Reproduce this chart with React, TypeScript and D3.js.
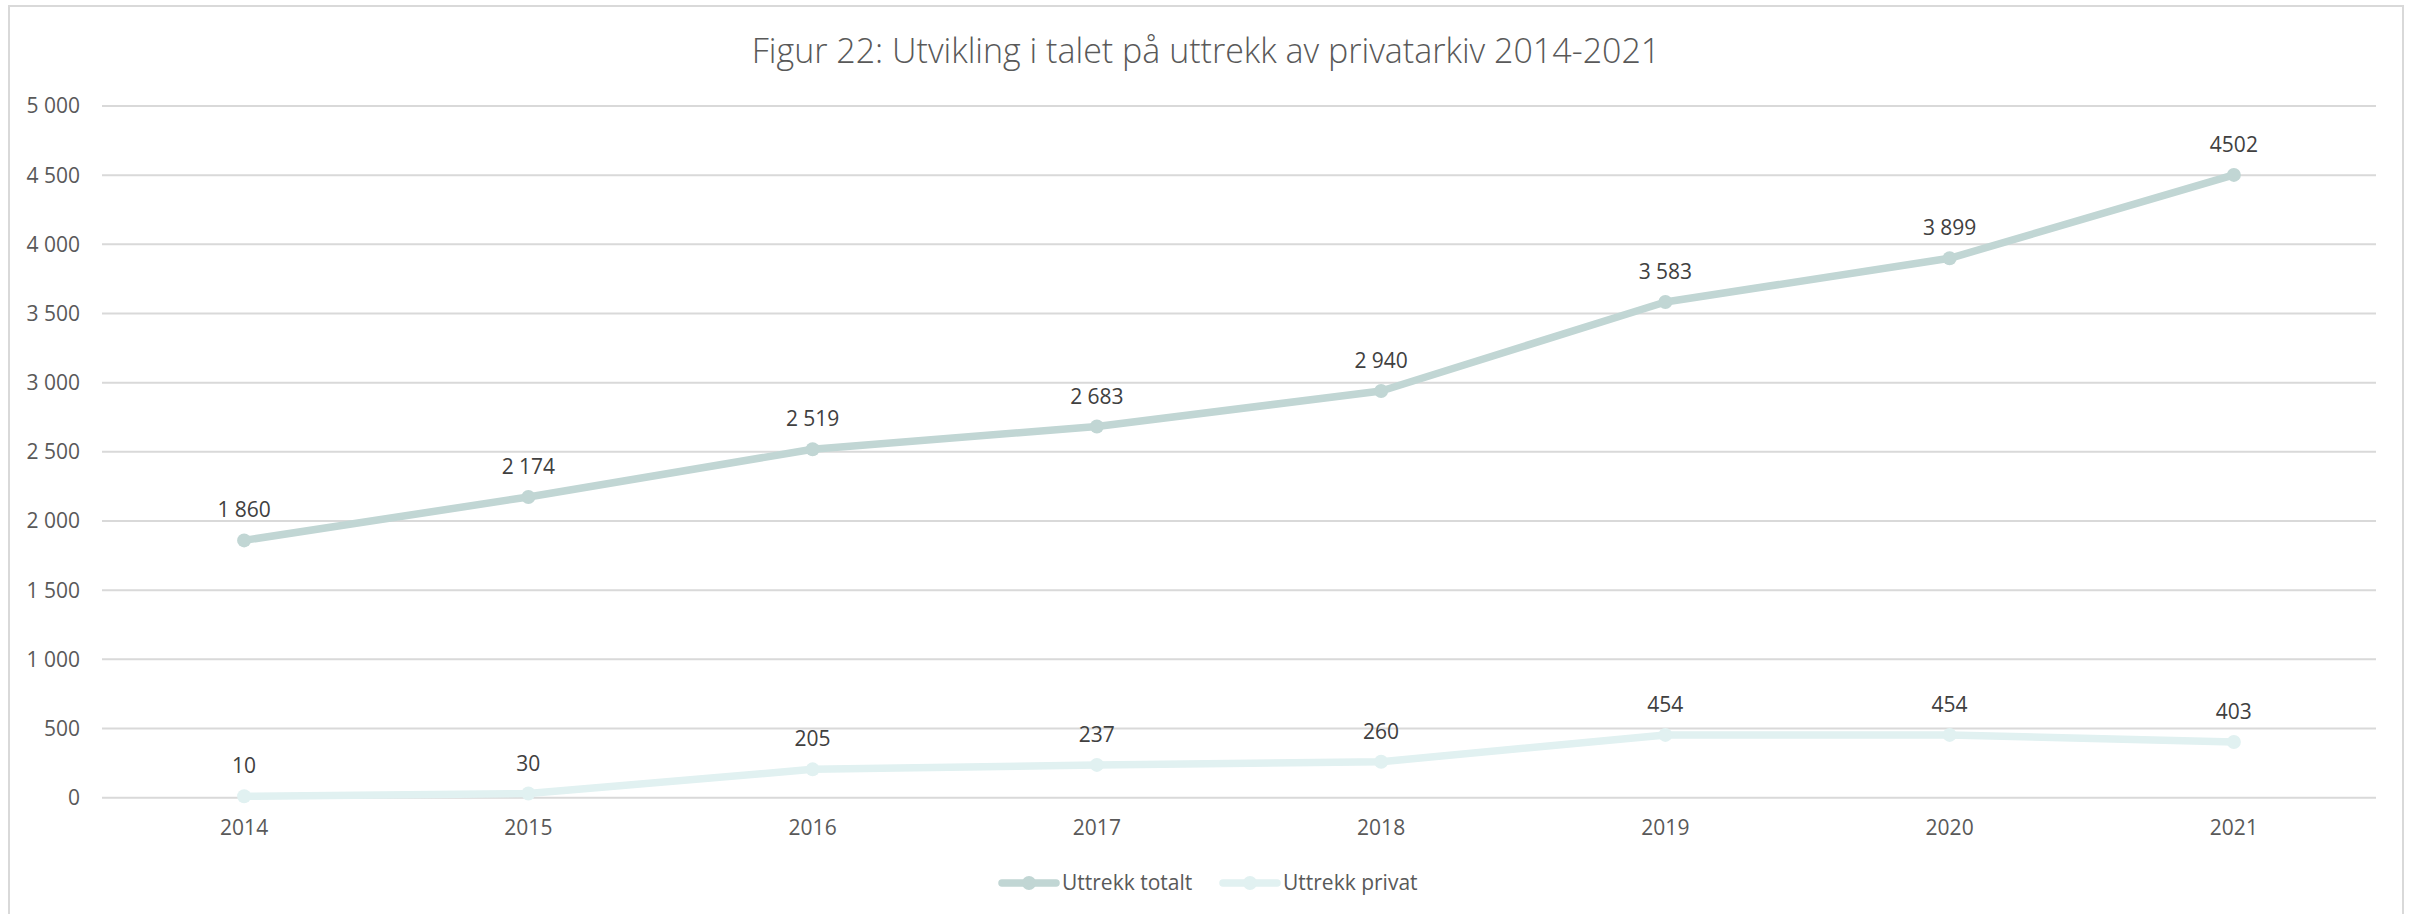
import React from 'react';
import * as d3 from 'd3';

const years = ['2014', '2015', '2016', '2017', '2018', '2019', '2020', '2021'];
const totalValues = [1860, 2174, 2519, 2683, 2940, 3583, 3899, 4502];
const totalLabels = ['1 860', '2 174', '2 519', '2 683', '2 940', '3 583', '3 899', '4502'];
const privatValues = [10, 30, 205, 237, 260, 454, 454, 403];
const privatLabels = ['10', '30', '205', '237', '260', '454', '454', '403'];
const yTicks = [0, 500, 1000, 1500, 2000, 2500, 3000, 3500, 4000, 4500, 5000];
const yTickLabels = ['0', '500', '1 000', '1 500', '2 000', '2 500', '3 000', '3 500', '4 000', '4 500', '5 000'];

const W = 2410;
const H = 914;
const FONT = '"Open Sans", Calibri, sans-serif';

const series = [
  { name: 'Uttrekk totalt', values: totalValues, labels: totalLabels, color: '#c1d6d4' },
  { name: 'Uttrekk privat', values: privatValues, labels: privatLabels, color: '#e1f1f1' },
];

const App: React.FC = () => {
  // plot area
  const left = 102;
  const right = 2376;
  const top = 106;
  const bottom = 797.7;

  const x = d3.scalePoint<string>().domain(years).range([left, right]).padding(0.5);
  const y = d3.scaleLinear().domain([0, 5000]).range([bottom, top]);

  const line = d3
    .line<number>()
    .x((_, i) => x(years[i]) as number)
    .y(d => y(d));

  // legend entries: line start x
  const legendX = [1002, 1223];

  return (
    <svg
      width={W}
      height={H}
      style={{ position: 'absolute', left: 0, top: 0, background: '#fff' }}
      fontFamily={FONT}
    >
      {/* outer frame */}
      <rect x={9} y={6} width={2394} height={H + 20} fill="#fff" stroke="#d9d9d9" strokeWidth={2} />

      {/* title */}
      <text x={1206} y={63} textAnchor="middle" fontSize={34} fontWeight={300} fill="#595959">
        Figur 22: Utvikling i talet på uttrekk av privatarkiv 2014-2021
      </text>

      {/* gridlines + y labels */}
      {yTicks.map((t, i) => (
        <g key={t}>
          <line x1={left} x2={right} y1={y(t)} y2={y(t)} stroke="#d9d9d9" strokeWidth={2} />
          <text x={80} y={y(t)} dy="0.35em" textAnchor="end" fontSize={21} fill="#595959">
            {yTickLabels[i]}
          </text>
        </g>
      ))}

      {/* x labels */}
      {years.map(yr => (
        <text key={yr} x={x(yr)} y={835} textAnchor="middle" fontSize={21} fill="#595959">
          {yr}
        </text>
      ))}

      {/* series */}
      {series.map(s => (
        <g key={s.name}>
          <path
            d={line(s.values) || ''}
            fill="none"
            stroke={s.color}
            strokeWidth={7.5}
            strokeLinecap="round"
            strokeLinejoin="round"
          />
          {s.values.map((v, i) => (
            <circle key={i} cx={x(years[i])} cy={y(v)} r={7} fill={s.color} />
          ))}
          {s.values.map((v, i) => (
            <text key={'l' + i} x={x(years[i])} y={y(v) - 23} textAnchor="middle" fontSize={21} fill="#404040">
              {s.labels[i]}
            </text>
          ))}
        </g>
      ))}

      {/* legend */}
      {series.map((s, i) => {
        const lx = legendX[i];
        const ly = 883;
        return (
          <g key={'lg' + s.name}>
            <line x1={lx} x2={lx + 54} y1={ly} y2={ly} stroke={s.color} strokeWidth={7.5} strokeLinecap="round" />
            <circle cx={lx + 27} cy={ly} r={7} fill={s.color} />
            <text x={lx + 60} y={ly} dy="0.35em" fontSize={21} fill="#595959">
              {s.name}
            </text>
          </g>
        );
      })}
    </svg>
  );
};

export default App;
